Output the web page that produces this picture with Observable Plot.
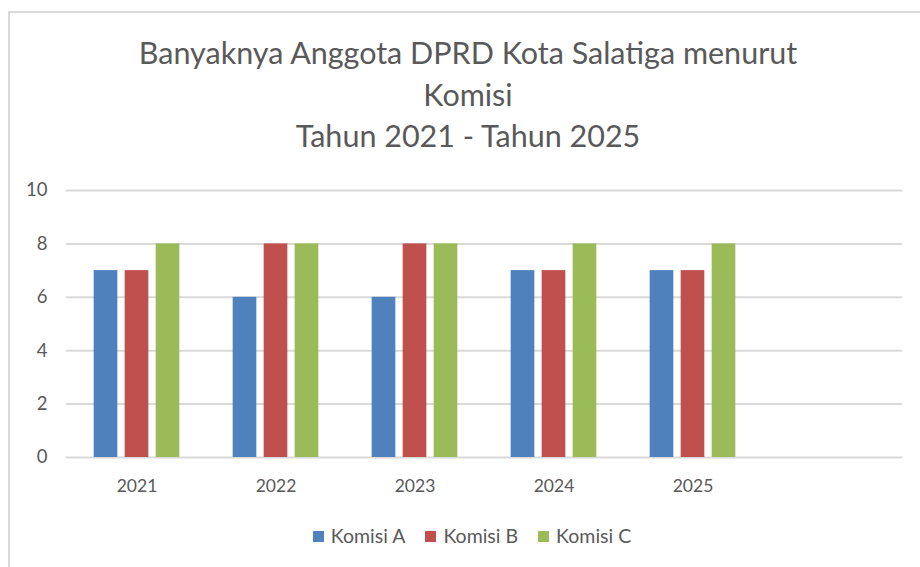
<!DOCTYPE html>
<html>
<head>
<meta charset="utf-8">
<script src="https://cdn.jsdelivr.net/npm/d3@7"></script>
<script src="https://cdn.jsdelivr.net/npm/@observablehq/plot@0.6"></script>
<style>
  html, body { margin: 0; padding: 0; background: #fff; width: 920px; height: 567px; overflow: hidden; }
  body { position: relative; font-family: Lato, "Open Sans", sans-serif; color: #595959; }
  #frame { position: absolute; left: 8px; top: 11px; width: 940px; height: 600px; border: 2px solid #d9d9d9; box-sizing: border-box; }
  #title { position: absolute; left: 8px; width: 920px; top: 32px; text-align: center; font-size: 30.5px; line-height: 41.5px; color: #595959; }
  #chart { position: absolute; left: 0; top: 160px; }
  #legend { position: absolute; left: 0; width: 944px; top: 524px; text-align: center; font-size: 19.5px; color: #595959; white-space: nowrap; }
  .item { display: inline-block; margin: 0 10px; }
  .sw { display: inline-block; width: 11px; height: 11px; margin-right: 7px; vertical-align: 1px; }
</style>
</head>
<body>
<div id="frame"></div>
<div id="title">Banyaknya Anggota DPRD Kota Salatiga menurut<br>Komisi<br>Tahun 2021 - Tahun 2025</div>
<div id="chart"></div>
<div id="legend"></div>
<script>
const years = ["2021", "2022", "2023", "2024", "2025"];
const seriesNames = ["Komisi A", "Komisi B", "Komisi C"];
const komisiA = [7, 6, 6, 7, 7];
const komisiB = [7, 8, 8, 7, 7];
const komisiC = [8, 8, 8, 8, 8];
const colors = ["#4F81BD", "#C0504D", "#9BBB59"];
const yTicks = [0, 2, 4, 6, 8, 10];

const seriesValues = [komisiA, komisiB, komisiC];
const W = 920, mL = 66, mR = 18;
const xDomain = [...years, " "];
const step = (W - mL - mR) / xDomain.length;
const barW = 24, barStep = 31;

const barMarks = seriesNames.map((name, i) => {
  const data = years.map((y, j) => ({year: y, value: seriesValues[i][j], series: name}));
  const off = (i - 1) * barStep;
  const side = (step - barW) / 2;
  return Plot.barY(data, {
    x: "year", y: "value", fill: colors[i],
    insetLeft: side + off, insetRight: side - off
  });
});

const chart = Plot.plot({
  width: W,
  height: 347,
  marginLeft: mL,
  marginRight: mR,
  marginTop: 30,
  marginBottom: 50,
  style: {fontFamily: "Lato, 'Open Sans', sans-serif", fontSize: "17.5px", color: "#595959", background: "transparent"},
  x: {domain: xDomain, padding: 0, label: null},
  y: {domain: [0, 10], label: null},
  marks: [
    Plot.ruleY(yTicks, {stroke: "#d9d9d9", strokeWidth: 2}),
    ...barMarks,
    Plot.axisY(yTicks, {tickSize: 0, tickPadding: 19, label: null, fill: "#595959", fontSize: 18.5}),
    Plot.axisX({tickSize: 0, tickPadding: 22, label: null, fill: "#595959"})
  ]
});
document.getElementById("chart").appendChild(chart);

const legend = document.getElementById("legend");
seriesNames.forEach((name, i) => {
  const it = document.createElement("span");
  it.className = "item";
  it.innerHTML = `<span class="sw" style="background:${colors[i]}"></span>${name}`;
  legend.appendChild(it);
});
</script>
</body>
</html>
